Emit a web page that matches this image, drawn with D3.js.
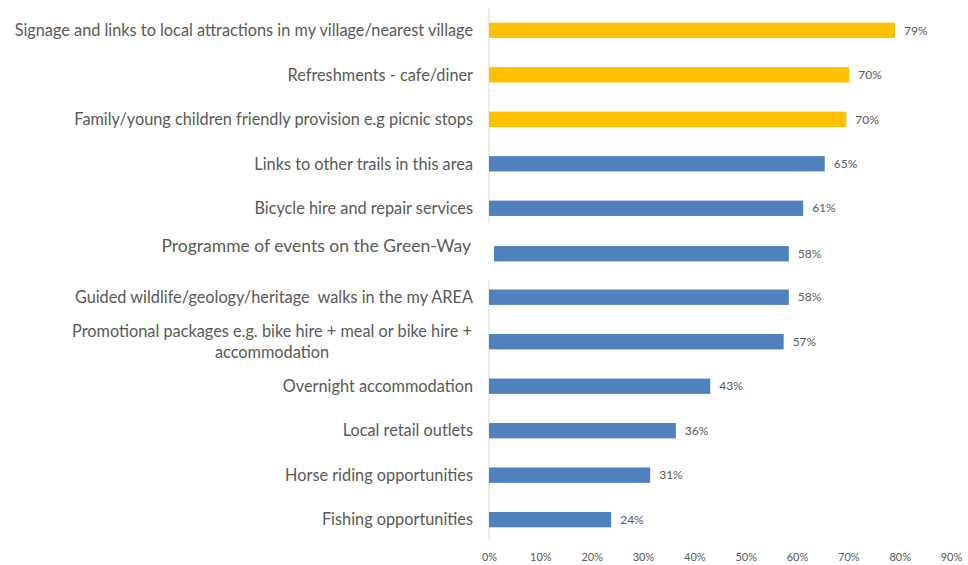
<!DOCTYPE html>
<html>
<head>
<meta charset="utf-8">
<script src="https://cdn.jsdelivr.net/npm/d3@7"></script>
<style>
  body { margin: 0; background: #fff; }
  text { font-family: Lato, "Open Sans", sans-serif; fill: #595959; white-space: pre; }
</style>
</head>
<body>
<script>
// survey items, top to bottom
var categories = [
  "Signage and links to local attractions in my village/nearest village",
  "Refreshments - cafe/diner",
  "Family/young children friendly provision e.g picnic stops",
  "Links to other trails in this area",
  "Bicycle hire and repair services",
  "Programme of events on the Green-Way",
  "Guided wildlife/geology/heritage  walks in the my AREA",
  "Promotional packages e.g. bike hire + meal or bike hire + accommodation",
  "Overnight accommodation",
  "Local retail outlets",
  "Horse riding opportunities",
  "Fishing opportunities"
];
var values = [79.1, 70.2, 69.6, 65.4, 61.2, 58.4, 58.4, 57.4, 43.1, 36.4, 31.4, 23.8];
var highlighted = [true, true, true, false, false, false, false, false, false, false, false, false];
var tickValues = [0, 10, 20, 30, 40, 50, 60, 70, 80, 90];

var width = 968, height = 565;
var margin = {top: 8, right: 17, bottom: 25, left: 489};

var svg = d3.select("body").append("svg")
  .attr("width", width)
  .attr("height", height);

var x = d3.scaleLinear()
  .domain([0, 90])
  .range([margin.left, width - margin.right]);

var y = d3.scaleBand()
  .domain(categories)
  .range([margin.top, 542])
  .paddingInner(0.655)
  .paddingOuter(0.33);

// the "Programme of events" row was pasted in, slightly shifted
var pasted = 5;

// vertical axis line, broken around the pasted row
var gapTop = y(categories[pasted]) - 22, gapBot = y(categories[pasted]) + y.bandwidth() + 20;
svg.append("line")
  .attr("x1", x(0)).attr("x2", x(0))
  .attr("y1", margin.top).attr("y2", gapTop)
  .attr("stroke", "#d9d9d9").attr("stroke-width", 1);
svg.append("line")
  .attr("x1", x(0)).attr("x2", x(0))
  .attr("y1", gapBot).attr("y2", 540)
  .attr("stroke", "#d9d9d9").attr("stroke-width", 1);

svg.selectAll("rect.bar")
  .data(values)
  .enter().append("rect")
  .attr("class", "bar")
  .attr("x", function(d, i) { return i === pasted ? x(0) + 5 : x(0); })
  .attr("y", function(d, i) { return y(categories[i]) + (i === pasted ? 1 : 0); })
  .attr("width", function(d, i) { return x(d) - x(0) - (i === pasted ? 5 : 0); })
  .attr("height", y.bandwidth())
  .attr("fill", function(d, i) { return highlighted[i] ? "#FFC000" : "#4F81BD"; });

// data labels
svg.selectAll("text.val")
  .data(values)
  .enter().append("text")
  .attr("class", "val")
  .attr("x", function(d) { return x(d) + 9; })
  .attr("y", function(d, i) { return y(categories[i]) + y.bandwidth() / 2 + (i === pasted ? 1 : 0); })
  .attr("dy", "0.35em")
  .style("font-size", "12px")
  .text(function(d) { return Math.round(d) + "%"; });

// category labels
svg.selectAll("text.cat")
  .data(categories)
  .enter().append("text")
  .attr("class", "cat")
  .style("font-size", function(d, i) { return i === pasted ? "17.5px" : "16.3px"; })
  .each(function(d, i) {
    var t = d3.select(this);
    var cy = y(d) + y.bandwidth() / 2;
    var right = x(0) - 16;
    if (i === 7) {
      var lines = ["Promotional packages e.g. bike hire + meal or bike hire +", "accommodation"];
      t.attr("text-anchor", "middle");
      lines.forEach(function(l, k) {
        t.append("tspan")
          .attr("x", 272)
          .attr("y", cy - 10 + k * 21)
          .attr("dy", "0.35em")
          .text(l);
      });
    } else {
      t.attr("text-anchor", "end")
        .attr("x", i === pasted ? right - 2 : right)
        .attr("y", i === pasted ? cy - 7 : cy)
        .attr("dy", "0.35em")
        .text(d);
    }
  });

// bottom axis
var xAxis = d3.axisBottom(x)
  .tickValues(tickValues)
  .tickSize(0)
  .tickPadding(0)
  .tickFormat(function(d) { return d + "%"; });

var gx = svg.append("g")
  .attr("transform", "translate(0," + 557 + ")")
  .call(xAxis);
gx.select(".domain").remove();
gx.selectAll("text")
  .attr("dy", "0.35em")
  .style("font-size", "11px")
  .style("font-family", "Lato, 'Open Sans', sans-serif")
  .attr("fill", "#595959");
</script>
</body>
</html>
